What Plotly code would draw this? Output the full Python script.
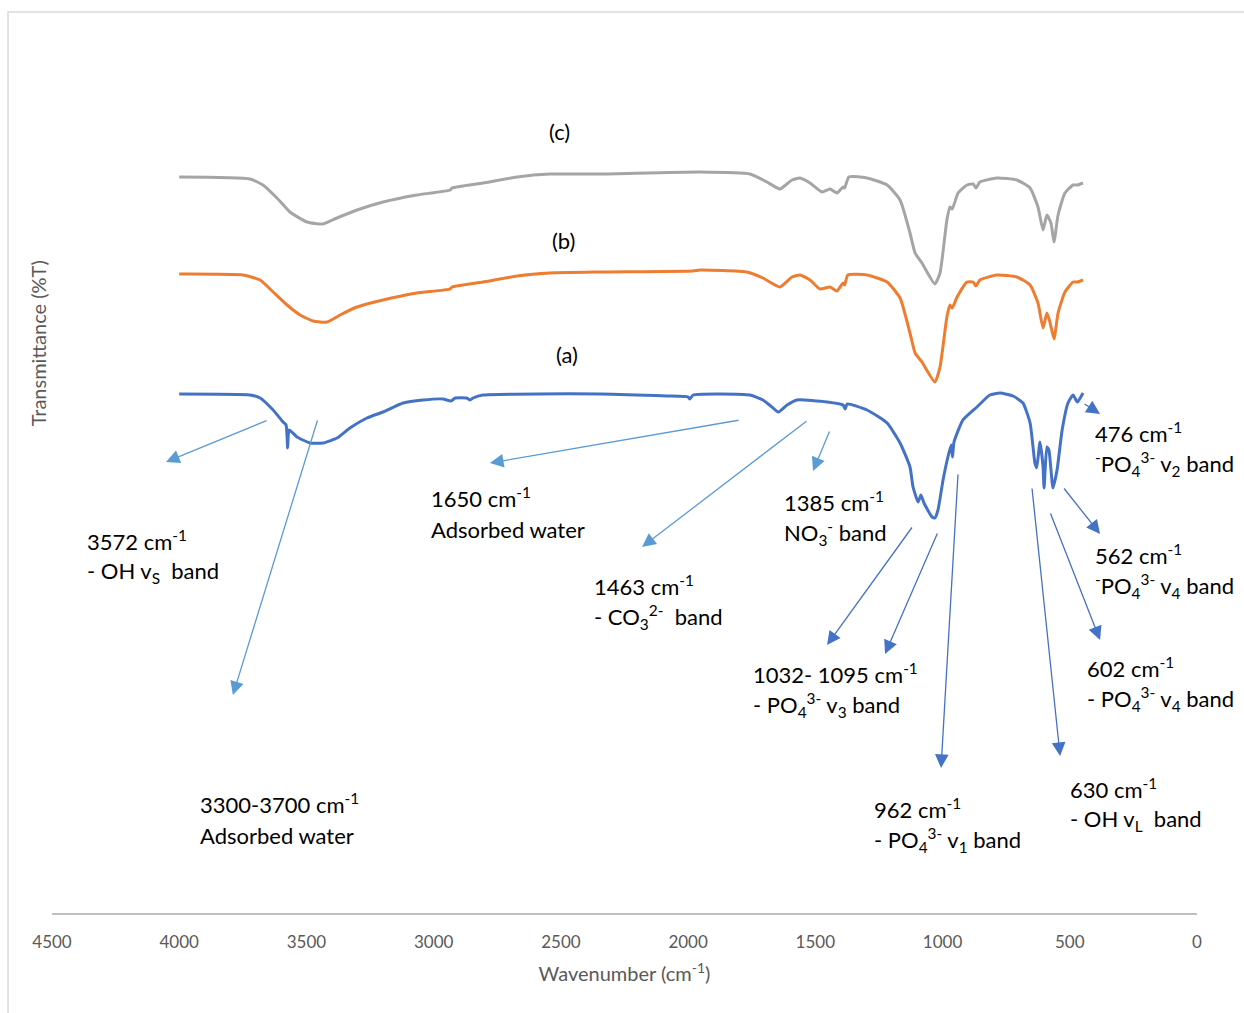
import plotly.graph_objects as go

# FTIR spectra (wavenumber in cm-1, transmittance offset per sample)
wn_a = [4000, 3722, 3682, 3631, 3592, 3580, 3574, 3568, 3537, 3486, 3435, 3380, 3329, 3262,
        3199, 3120, 3042, 2963, 2932, 2915, 2870, 2857, 2845, 2806, 2346, 2083, 2000,
        1993, 1980, 1757, 1706, 1666, 1645, 1611, 1572, 1454, 1391, 1383, 1375, 1297, 1218,
        1167, 1128, 1116, 1096, 1085, 1073, 1041, 1030, 1018, 998, 979, 966, 961, 955, 920,
        865, 814, 774, 723, 684, 656, 637, 630, 617, 605, 601, 590, 582, 566, 550, 530, 507,
        487, 470, 448]
t_a = [51.9, 51.8, 51.5, 50.3, 49.1, 48.8, 46.5, 48.3, 47.6, 47.0, 47.0, 47.5, 48.5, 49.5,
       50.1, 51.0, 51.3, 51.4, 51.2, 51.5, 51.5, 51.3, 51.5, 51.8, 51.9, 51.7, 51.6,
       51.4, 51.8, 51.8, 51.3, 50.5, 50.1, 50.8, 51.3, 51.1, 50.8, 50.4, 50.9, 50.3, 49.0,
       47.0, 44.6, 42.6, 41.1, 41.8, 41.0, 39.6, 39.5, 40.3, 43.3, 45.6, 46.8, 45.6, 47.1, 49.3,
       50.6, 51.8, 52.0, 51.7, 51.0, 49.0, 45.0, 44.5, 47.1, 44.6, 42.5, 46.6, 46.3, 42.5, 44.3,
       48.3, 51.0, 51.8, 51.1, 52.0]

wn_b = [4000, 3749, 3682, 3631, 3576, 3525, 3474, 3419, 3368, 3301, 3199, 3066, 2935, 2928,
        2806, 2672, 2543, 2346, 1981, 1953, 1769, 1706, 1639, 1592, 1560, 1521, 1482, 1442,
        1415, 1391, 1385, 1372, 1297, 1218, 1167, 1128, 1108, 1081, 1030, 1010, 983, 971, 962,
        943, 904, 880, 869, 853, 786, 708, 656, 625, 605, 590, 578, 562, 546, 519, 487, 470, 448]
t_b = [63.9, 63.8, 63.3, 62.1, 60.8, 59.8, 59.2, 59.1, 59.8, 60.6, 61.3, 62.0, 62.4, 62.6,
       63.1, 63.7, 64.0, 64.1, 64.2, 64.3, 64.1, 63.5, 62.6, 63.6, 63.8, 63.3, 62.4, 62.6,
       62.2, 63.0, 62.8, 63.8, 63.8, 63.1, 61.5, 58.0, 56.0, 55.1, 53.1, 54.6, 59.6, 60.8, 60.5,
       61.6, 63.1, 63.1, 62.7, 63.3, 63.8, 63.6, 62.8, 61.0, 58.5, 60.0, 59.1, 57.4, 60.0, 62.1,
       63.1, 63.1, 63.3]

wn_c = [4000, 3722, 3671, 3616, 3565, 3498, 3435, 3380, 3301, 3199, 3066, 2935, 2928, 2806,
        2672, 2543, 2346, 1953, 1757, 1690, 1639, 1592, 1560, 1521, 1474, 1442, 1415, 1391,
        1385, 1368, 1297, 1218, 1167, 1128, 1108, 1081, 1030, 1010, 983, 971, 962, 939, 904,
        880, 869, 853, 786, 708, 656, 625, 605, 590, 574, 562, 546, 519, 487, 470, 448]
t_c = [73.6, 73.4, 72.8, 71.5, 70.1, 69.1, 68.9, 69.5, 70.3, 71.1, 71.8, 72.3, 72.5, 73.0,
       73.6, 73.9, 73.9, 74.1, 73.9, 73.1, 72.4, 73.3, 73.5, 73.0, 72.1, 72.4, 72.0, 72.6,
       72.5, 73.6, 73.5, 72.8, 71.3, 68.0, 66.0, 65.0, 62.9, 64.0, 69.3, 70.6, 70.4, 72.0, 72.8,
       72.9, 72.5, 73.1, 73.5, 73.3, 72.5, 70.6, 68.3, 69.8, 69.0, 67.1, 69.8, 72.0, 72.8,
       72.8, 73.0]

sample_names = ["(a)", "(b)", "(c)"]
x_ticks = [4500, 4000, 3500, 3000, 2500, 2000, 1500, 1000, 500, 0]

FONT = "Lato"
LIGHT = "#5B9BD5"
DARK = "#4472C4"

fig = go.Figure()
for wn, t, col in [(wn_c, t_c, "#A5A5A5"), (wn_b, t_b, "#ED7D31"), (wn_a, t_a, "#4472C4")]:
    fig.add_trace(go.Scatter(x=wn, y=t, mode="lines",
                             line=dict(color=col, width=3, shape="spline", smoothing=0.5),
                             showlegend=False, hoverinfo="skip"))

# sample tags above each spectrum
tag_pos = [(2476, 55.9), (2488, 67.3), (2507, 78.2)]
anns = []
for name, (xx, yy) in zip(sample_names, tag_pos):
    anns.append(dict(x=xx, y=yy, text=name, showarrow=False,
                     font=dict(family=FONT, size=22, color="black")))

# band arrows: (tail wn, tail T, head wn, head T, colour)
arrows = [
    (3651, 49.3, 4052, 45.1, LIGHT),
    (3455, 49.4, 3789, 21.8, LIGHT),
    (1796, 49.3, 2779, 45.0, LIGHT),
    (1529, 49.3, 2181, 36.6, LIGHT),
    (1442, 48.3, 1509, 44.2, LIGHT),
    (1116, 38.7, 1454, 26.8, DARK),
    (1018, 38.1, 1226, 25.9, DARK),
    (939, 44.0, 1006, 14.5, DARK),
    (649, 42.6, 538, 15.7, DARK),
    (578, 40.1, 381, 27.3, DARK),
    (527, 42.6, 381, 37.9, DARK),
    (448, 51.0, 381, 49.9, DARK),
]
for tx, ty, hx, hy, col in arrows:
    anns.append(dict(x=hx, y=hy, ax=tx, ay=ty, xref="x", yref="y", axref="x", ayref="y",
                     text="", showarrow=True, arrowhead=2, arrowsize=2.1, arrowwidth=1.3,
                     arrowcolor=col))

# band assignments (left x, first line y, second line y, line1, line2)
labels = [
    (4370, 37.3, 34.1, "3572 cm<sup>-1</sup>", "- OH v<sub>S</sub>  band"),
    (3926, 11.0, 7.8, "3300-3700 cm<sup>-1</sup>", "Adsorbed water"),
    (3018, 41.6, 38.4, "1650 cm<sup>-1</sup>", "Adsorbed water"),
    (2378, 32.8, 29.6, "1463 cm<sup>-1</sup>", "- CO<sub>3</sub><sup>2-</sup>  band"),
    (1631, 41.2, 38.0, "1385 cm<sup>-1</sup>", "NO<sub>3</sub><sup>-</sup> band"),
    (1753, 24.0, 20.8, "1032- 1095 cm<sup>-1</sup>", "- PO<sub>4</sub><sup>3-</sup> v<sub>3</sub> band"),
    (1277, 10.5, 7.3, "962 cm<sup>-1</sup>", "- PO<sub>4</sub><sup>3-</sup> v<sub>1</sub> band"),
    (507, 12.5, 9.3, "630 cm<sup>-1</sup>", "- OH v<sub>L</sub>  band"),
    (440, 24.6, 21.4, "602 cm<sup>-1</sup>", "- PO<sub>4</sub><sup>3-</sup> v<sub>4</sub> band"),
    (409, 35.9, 32.7, "562 cm<sup>-1</sup>", "<sup>-</sup>PO<sub>4</sub><sup>3-</sup> v<sub>4</sub> band"),
    (409, 48.1, 44.9, "476 cm<sup>-1</sup>", "<sup>-</sup>PO<sub>4</sub><sup>3-</sup> v<sub>2</sub> band"),
]
for xx, y1, y2, l1, l2 in labels:
    for yy, txt in ((y1, l1), (y2, l2)):
        anns.append(dict(x=xx, y=yy, text=txt, showarrow=False, xanchor="left", yanchor="middle",
                         font=dict(family=FONT, size=22, color="black")))

# y axis title
anns.append(dict(x=-0.0122, y=0.633, xref="paper", yref="paper", xanchor="center",
                 yanchor="middle", text="Transmittance (%T)", textangle=-90, showarrow=False,
                 font=dict(family=FONT, size=20, color="#595959")))

fig.update_layout(
    width=1244, height=1013,
    margin=dict(l=52, r=47, t=13, b=100),
    paper_bgcolor="white", plot_bgcolor="white",
    annotations=anns,
    shapes=[dict(type="rect", xref="paper", yref="paper", x0=-0.0384, x1=1.1, y0=-0.12, y1=1.0011,
                 line=dict(color="#D9D9D9", width=1.5), layer="below")],
    xaxis=dict(range=[4500, 0], tickvals=x_ticks, ticktext=[str(v) for v in x_ticks],
               showgrid=False, zeroline=False, showline=True, linecolor="#BFBFBF", linewidth=1.5,
               ticks="outside", ticklen=13, tickcolor="rgba(0,0,0,0)",
               tickfont=dict(family=FONT, size=17, color="#595959"),
               title=dict(text="Wavenumber (cm<sup>-1</sup>)", standoff=16,
                          font=dict(family=FONT, size=20, color="#595959"))),
    yaxis=dict(range=[0, 90], visible=False),
)

fig.write_html("out.html")
